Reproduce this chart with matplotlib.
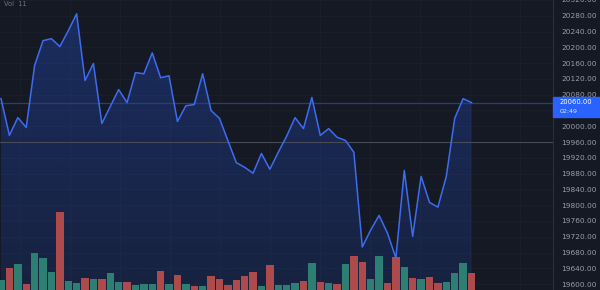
import numpy as np
import matplotlib.pyplot as plt
from matplotlib.patches import Rectangle

# цены (close) по барам
price = [20070, 19977, 20022, 19997, 20154, 20217, 20222, 20202, 20242, 20285,
         20116, 20159, 20007, 20050, 20093, 20060, 20136, 20133, 20186, 20123,
         20128, 20012, 20052, 20055, 20133, 20040, 20020, 19964, 19908, 19896,
         19881, 19931, 19891, 19934, 19975, 20022, 19994, 20073, 19977, 19994,
         19972, 19964, 19934, 19694, 19737, 19774, 19729, 19666, 19888, 19721,
         19873, 19807, 19795, 19873, 20020, 20070, 20060]

# объём и направление бара (u - рост, d - падение)
volume = [10, 22, 26, 6, 37, 32, 18, 78, 9, 7,
          12, 11, 11, 17, 8, 8, 5, 6, 6, 19,
          6, 15, 6, 4, 4, 14, 11, 5, 10, 14,
          18, 4, 25, 5, 5, 7, 9, 27, 8, 7,
          6, 26, 34, 28, 11, 34, 7, 33, 23, 12,
          11, 13, 7, 8, 17, 27, 17]
direction = ['u', 'd', 'u', 'd', 'u', 'u', 'u', 'd', 'u', 'u',
             'd', 'u', 'd', 'u', 'u', 'd', 'u', 'u', 'u', 'd',
             'u', 'd', 'u', 'd', 'u', 'd', 'd', 'd', 'd', 'd',
             'd', 'u', 'd', 'u', 'u', 'u', 'd', 'u', 'd', 'u',
             'd', 'u', 'd', 'd', 'u', 'u', 'd', 'd', 'u', 'd',
             'u', 'd', 'd', 'u', 'u', 'u', 'd']

yticks = np.arange(19600, 20321, 40)
last_price = 20060
prev_line = 19959
last_time = "02:49"

bg = '#151924'
x = np.arange(len(price))
price = np.array(price)
volume = np.array(volume)

fig = plt.figure(figsize=(6, 2.9), dpi=100, facecolor=bg)
ax = fig.add_axes([0, 0, 553 / 600, 1])
ax.set_facecolor(bg)

xlim = (-0.12, 65.7)
ylim = (19585, 20318)

# сетка (едва заметная)
for gx in np.arange(2.3, 66, 5.95):
    ax.axvline(gx, color='#1b1f2b', lw=0.6, zorder=0)
for gy in yticks:
    ax.axhline(gy, color='#1b1f2b', lw=0.6, zorder=0)

# градиентная заливка под линией
poly = ax.fill_between(x, price, ylim[0], color='none', lw=0)
grad = np.linspace(0.27, 0.13, 256).reshape(-1, 1)
rgba = np.zeros((256, 1, 4))
rgba[..., 0] = 41 / 255
rgba[..., 1] = 98 / 255
rgba[..., 2] = 1.0
rgba[..., 3] = grad
im = ax.imshow(rgba, extent=[x[0], x[-1], ylim[0], price.max()],
               aspect='auto', origin='upper', zorder=1)
im.set_clip_path(poly.get_paths()[0], transform=ax.transData)

# объём внизу
vol_scale = 0.27 / volume.max()
colors = ['#2d7e73' if d == 'u' else '#ad4a4c' for d in direction]
ax.bar(x, volume * vol_scale, width=0.88, bottom=0, color=colors,
       transform=ax.get_xaxis_transform(), zorder=2)

# линии цены
ax.axhline(prev_line, color='#474b57', lw=0.8, zorder=2)
ax.axhline(last_price, color='#2d3b7c', lw=0.9, zorder=2)
ax.plot(x, price, color='#3e6cf0', lw=1.1, zorder=3)

ax.set_xlim(*xlim)
ax.set_ylim(*ylim)
ax.set_xticks([])
ax.yaxis.tick_right()
ax.set_yticks(yticks)
# подпись под плашкой последней цены не видна
labels = ['' if last_price - 40 < v < last_price else f'{v:.2f}' for v in yticks]
ax.set_yticklabels(labels)
ax.tick_params(axis='y', length=0, pad=6, labelsize=5.3, labelcolor='#9a9da6')
for s in ['top', 'bottom', 'left']:
    ax.spines[s].set_visible(False)
ax.spines['right'].set_color('#2a2e39')
ax.spines['right'].set_linewidth(0.8)

ax.text(0.008, 0.995, 'Vol  11', transform=ax.transAxes, fontsize=4.8,
        color='#6f7380', va='top', ha='left')

# метка последней цены
fig.patches.append(Rectangle((553 / 600, 1 - 117 / 290), 47 / 600, 20 / 290,
                             transform=fig.transFigure, color='#2962ff', zorder=5))
fig.text(560 / 600, 1 - 101.5 / 290, f'{last_price:.2f}', fontsize=4.9,
         color='white', va='center', ha='left', zorder=6)
fig.text(560 / 600, 1 - 111.5 / 290, last_time, fontsize=4.5,
         color='#dfe6ff', va='center', ha='left', zorder=6)

fig.savefig('out.png', dpi=100, facecolor=bg)
